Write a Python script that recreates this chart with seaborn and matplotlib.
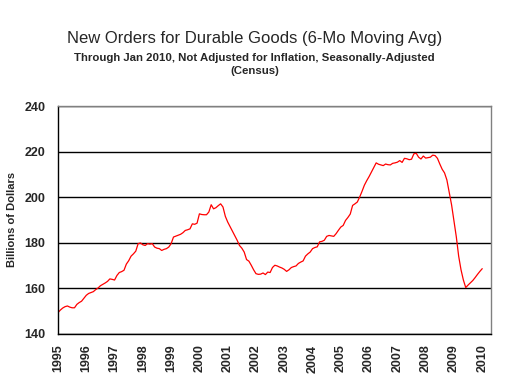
import numpy as np
import pandas as pd
import seaborn as sns
import matplotlib.pyplot as plt

# Monthly values, Jan 1995 - Jan 2010 (billions of dollars, 6-mo moving avg)
v1995 = [149.2, 150.3, 151.2, 151.8, 152.1, 151.6, 151.3, 151.3, 152.8, 153.6, 154.2, 155.5]
v1996 = [156.8, 157.6, 158.0, 158.4, 159.3, 160.0, 161.0, 161.6, 162.2, 162.9, 164.0, 163.8]
v1997 = [163.5, 165.5, 166.8, 167.2, 167.8, 170.5, 172.0, 174.0, 175.0, 176.2, 179.5, 179.8]
v1998 = [179.0, 178.7, 179.5, 179.3, 179.5, 178.0, 177.5, 177.3, 176.5, 177.0, 177.3, 178.0]
v1999 = [179.5, 182.4, 182.8, 183.2, 183.6, 184.3, 185.3, 185.6, 186.0, 188.2, 188.0, 188.5]
v2000 = [192.6, 192.3, 192.2, 192.2, 193.4, 196.6, 194.8, 195.3, 196.2, 197.0, 195.6, 191.5]
v2001 = [189.0, 187.0, 185.0, 183.0, 181.0, 178.7, 177.5, 175.8, 172.5, 171.8, 170.0, 168.0]
v2002 = [166.3, 166.0, 166.1, 166.6, 165.9, 167.0, 166.8, 169.0, 170.0, 169.7, 169.2, 168.8]
v2003 = [168.2, 167.3, 168.0, 169.0, 169.4, 169.7, 170.8, 171.4, 171.9, 174.0, 175.0, 175.8]
v2004 = [177.3, 177.8, 178.1, 180.3, 180.5, 181.0, 182.7, 183.1, 182.9, 182.7, 183.9, 185.4]
v2005 = [186.8, 187.5, 189.7, 191.0, 192.5, 196.3, 197.0, 197.8, 200.0, 202.5, 205.2, 207.2]
v2006 = [209.0, 211.0, 213.1, 215.0, 214.4, 214.1, 213.8, 214.5, 214.2, 214.1, 214.8, 215.0]
v2007 = [215.3, 216.0, 215.2, 217.0, 216.8, 216.4, 216.6, 219.0, 219.2, 217.5, 216.7, 218.0]
v2008 = [217.1, 217.3, 217.5, 218.4, 218.2, 217.0, 214.5, 212.2, 210.6, 207.5, 202.0, 196.5]
v2009 = [189.5, 182.5, 174.0, 168.0, 163.5, 160.2, 161.3, 162.3, 163.3, 164.6, 166.0, 167.3]
v2010 = [168.5]

values = (v1995 + v1996 + v1997 + v1998 + v1999 + v2000 + v2001 + v2002 +
          v2003 + v2004 + v2005 + v2006 + v2007 + v2008 + v2009 + v2010)
years = 1995 + np.arange(len(values)) / 12.0
df = pd.DataFrame({"year": years, "orders": values})

year_ticks = list(range(1995, 2011))
y_ticks = [140, 160, 180, 200, 220, 240]

sns.set_style("white")
plt.rcParams["font.family"] = ["Liberation Sans", "DejaVu Sans"]

fig = plt.figure(figsize=(5.06, 3.81), dpi=100)
ax = fig.add_axes([58 / 506, 1 - 333.5 / 381, (491 - 58) / 506, (333.5 - 106) / 381])

sns.lineplot(data=df, x="year", y="orders", color="red", linewidth=0.9, ax=ax)

ax.set_xlim(1995, 2010.31)
ax.set_ylim(140, 240)
ax.set_xticks(year_ticks)
ax.set_xticklabels([str(y) for y in year_ticks], rotation=90, fontsize=9, fontweight="bold")
ax.set_yticks(y_ticks)
ax.set_yticklabels([str(y) for y in y_ticks], fontsize=9, fontweight="bold")
ax.tick_params(axis="both", direction="out", length=4, width=0.9, color="black", pad=4)
ax.tick_params(axis="y", length=6, pad=3)

ax.set_axisbelow(True)
ax.grid(axis="y", color="black", linewidth=1.0)
ax.grid(axis="x", visible=False)

ax.spines["left"].set_color("black")
ax.spines["bottom"].set_color("black")
ax.spines["top"].set_color("#808080")
ax.spines["right"].set_color("#808080")
for s in ax.spines.values():
    s.set_linewidth(1.0)

ax.set_xlabel("")
ax.set_ylabel("Billions of Dollars", fontsize=8, fontweight="bold", labelpad=5)

fig.text(0.503, 1 - 39 / 381, "New Orders for Durable Goods (6-Mo Moving Avg)",
         ha="center", va="center", fontsize=12)
fig.text(0.503, 1 - 58 / 381, "Through Jan 2010, Not Adjusted for Inflation, Seasonally-Adjusted",
         ha="center", va="center", fontsize=8.2, fontweight="bold")
fig.text(0.503, 1 - 71 / 381, "(Census)",
         ha="center", va="center", fontsize=8.2, fontweight="bold")

plt.savefig("out.png", dpi=100)
